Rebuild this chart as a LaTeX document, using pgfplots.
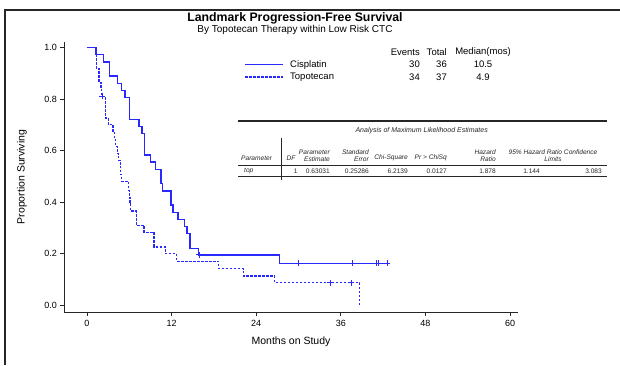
\documentclass[border=0pt]{standalone}
\usepackage{fontspec}
\setmainfont{Liberation Sans}
\usepackage{pgfplots}
\pgfplotsset{compat=1.18}
\definecolor{kmblue}{RGB}{40,40,255}
\begin{document}
\begin{tikzpicture}[x=1pt,y=1pt]
\useasboundingbox (0,0) rectangle (620,365);
\draw[line width=1.4pt, black!85] (5,0) -- (5,355) -- (620,355);
\begin{axis}[
  at={(64.4pt,52.8pt)}, anchor=south west, scale only axis,
  width=453.4pt, height=269.9pt,
  xmin=-3.2, xmax=61.1, ymin=-0.026, ymax=1.02,
  axis x line*=bottom, axis y line*=left,
  axis line style={black!85, line width=0.8pt, -},
  xtick={0,12,24,36,48,60}, ytick={0,0.2,0.4,0.6,0.8,1.0},
  tick align=outside, major tick length=4pt,
  tick style={black!85, line width=0.8pt},
  /pgf/number format/assume math mode=true,
  x tick label style={font=\fontsize{9}{10}\selectfont},
  y tick label style={font=\fontsize{9}{10}\selectfont,
     /pgf/number format/.cd, fixed, fixed zerofill, precision=1},
  scaled y ticks=false,
]
% Cisplatin
\addplot[const plot, color=kmblue, line width=1.3pt] coordinates {
 (0,1.0) (1.3,0.972) (2.3,0.944) (3.2,0.889) (4.3,0.861) (4.9,0.833)
 (5.4,0.806) (6.0,0.722) (7.4,0.694) (7.8,0.667) (8.2,0.583) (9.0,0.556)
 (9.7,0.528) (10.5,0.472) (10.7,0.444) (11.9,0.389) (12.2,0.361)
 (12.9,0.333) (13.8,0.306) (14.2,0.278) (14.6,0.222) (15.8,0.196)
 (27.3,0.163) (42.6,0.163)};
\addplot[only marks, mark=+, mark size=3pt, color=kmblue, mark options={line width=0.9pt}] coordinates {
 (15.9,0.196) (30.0,0.163) (37.7,0.163) (41.1,0.163) (41.4,0.163) (42.6,0.163)};
% Topotecan
\addplot[const plot, color=kmblue, line width=1.2pt, dash pattern=on 2.5pt off 1.5pt] coordinates {
 (0,1.0) (1.3,0.92) (1.7,0.865) (2.0,0.838) (2.1,0.811) (2.6,0.727)
 (3.0,0.70) (3.7,0.67) (3.9,0.643) (4.1,0.616) (4.3,0.589) (4.5,0.562)
 (4.7,0.535) (4.8,0.508) (4.9,0.481) (5.9,0.447) (6.0,0.42) (6.1,0.393)
 (6.2,0.366) (7.0,0.311) (8.1,0.284) (9.5,0.227) (11.1,0.200)
 (12.7,0.172) (18.7,0.142) (22.2,0.114) (26.6,0.088) (38.7,0.0)};
\addplot[only marks, mark=+, mark size=3pt, color=kmblue, mark options={line width=0.9pt}] coordinates {
 (2.2,0.811) (34.5,0.088) (37.5,0.088)};
\end{axis}
% titles
\node[inner sep=0, font=\bfseries\fontsize{12.3}{14}\selectfont] at (295,347) {Landmark Progression-Free Survival};
\node[inner sep=0, font=\fontsize{10}{12}\selectfont] at (295,335.5) {By Topotecan Therapy within Low Risk CTC};
\node[inner sep=0, font=\fontsize{10.5}{12}\selectfont] at (291,23) {Months on Study};
\node[inner sep=0, rotate=90, font=\fontsize{10.5}{12}\selectfont] at (22,188) {Proportion Surviving};
% legend
\begin{scope}[font=\fontsize{9.5}{11}\selectfont]
\node[inner sep=0, anchor=east] at (420,313) {Events};
\node[inner sep=0, anchor=east] at (447,313) {Total};
\node[inner sep=0] at (483,313) {Median(mos)};
\draw[color=kmblue, line width=1.3pt] (245,300.3) -- (283,300.3);
\draw[color=kmblue, line width=1.2pt, dash pattern=on 2.5pt off 1.5pt] (245,288) -- (283,288);
\node[inner sep=0, anchor=west] at (290,300.3) {Cisplatin};
\node[inner sep=0, anchor=west] at (290,288) {Topotecan};
\node[inner sep=0, anchor=east] at (420,300.3) {30};
\node[inner sep=0, anchor=east] at (447,300.3) {36};
\node[inner sep=0] at (483,300.3) {10.5};
\node[inner sep=0, anchor=east] at (420,288) {34};
\node[inner sep=0, anchor=east] at (447,288) {37};
\node[inner sep=0] at (483,288) {4.9};
\end{scope}
% table
\begin{scope}[font=\fontsize{6.6}{7.5}\selectfont, black!85]
\draw[line width=1.1pt] (238,244) -- (607,244);
\node[inner sep=0, font=\itshape\fontsize{7}{8}\selectfont] at (421.7,234.3) {Analysis of Maximum Likelihood Estimates};
\draw[line width=0.9pt] (281.7,227) -- (281.7,185);
\begin{scope}[every node/.style={inner sep=0, font=\itshape\fontsize{6.6}{7.5}\selectfont}]
\node[anchor=west] at (241,207) {Parameter};
\node at (291,207) {DF};
\node[anchor=east] at (330,213) {Parameter};
\node[anchor=east] at (330,206) {Estimate};
\node[anchor=east] at (369,213) {Standard};
\node[anchor=east] at (369,206) {Error};
\node[anchor=east] at (408,207) {Chi-Square};
\node[anchor=east] at (447,207) {Pr > ChiSq};
\node[anchor=east] at (496,213) {Hazard};
\node[anchor=east] at (496,206) {Ratio};
\node at (553,213) {95\% Hazard Ratio Confidence};
\node at (553,206) {Limits};
\node[anchor=west] at (244,194) {top};
\end{scope}
\draw[line width=0.9pt] (238,200) -- (607,200);
\begin{scope}[every node/.style={inner sep=0, anchor=east}]
\node at (297.7,194) {1};
\node at (330,194) {0.63031};
\node at (369,194) {0.25286};
\node at (408,194) {6.2139};
\node at (447,194) {0.0127};
\node at (496,194) {1.878};
\node at (540,194) {1.144};
\node at (602,194) {3.083};
\end{scope}
\draw[line width=1.1pt] (238,188.3) -- (607,188.3);
\end{scope}
\end{tikzpicture}
\end{document}
